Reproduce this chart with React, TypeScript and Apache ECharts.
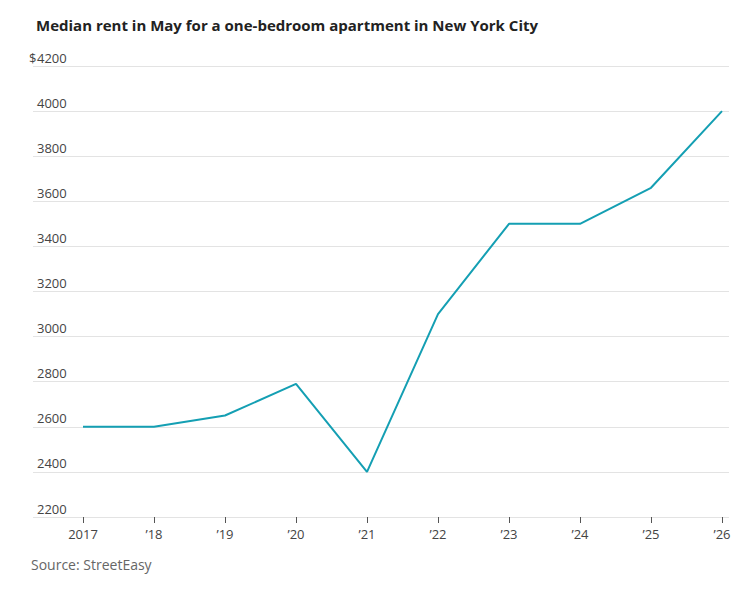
import React, { useEffect, useRef } from "react";
import * as echarts from "echarts";

const years = ["2017", "’18", "’19", "’20", "’21", "’22", "’23", "’24", "’25", "’26"];
const rent = [2600, 2600, 2650, 2790, 2400, 3100, 3500, 3500, 3660, 4000];
const yMin = 2200;
const yMax = 4200;
const yStep = 200;

const FONT = "'Open Sans', 'Noto Sans', sans-serif";

export default function App() {
  const ref = useRef<HTMLDivElement>(null);
  useEffect(() => {
    if (!ref.current) return;
    const chart = echarts.init(ref.current, null, { renderer: "svg" });
    chart.setOption({
      animation: false,
      backgroundColor: "#ffffff",
      title: {
        text: "Median rent in May for a one-bedroom apartment in New York City",
        left: 31,
        top: 12,
        textStyle: { fontFamily: FONT, fontSize: 15, fontWeight: "bold", color: "#222222" },
      },
      graphic: [
        {
          type: "text",
          left: 31,
          top: 557,
          style: { text: "Source: StreetEasy", font: `14px ${FONT}`, fill: "#666666" },
        },
        {
          type: "text",
          left: 29,
          top: 51,
          style: { text: "$", font: `13px ${FONT}`, fill: "#444444" },
        },
      ],
      grid: [
        { left: 33, right: 27, top: 66, bottom: 72 },
        { left: 83, right: 34, top: 66, bottom: 72 },
      ],
      xAxis: [
        { type: "value", gridIndex: 0, show: false, min: 0, max: 1 },
        {
          type: "category",
          gridIndex: 1,
          data: years,
          boundaryGap: false,
          axisLine: { show: false },
          axisTick: { show: true, length: 6, lineStyle: { color: "#555555" }, alignWithLabel: true },
          axisLabel: { color: "#444444", fontFamily: FONT, fontSize: 13, margin: 10 },
          splitLine: { show: false },
        },
      ],
      yAxis: [
        {
          type: "value",
          gridIndex: 0,
          min: yMin,
          max: yMax,
          interval: yStep,
          axisLine: { show: false },
          axisTick: { show: false },
          axisLabel: {
            inside: true,
            margin: 4,
            verticalAlign: "bottom",
            padding: [0, 0, 2, 0],
            color: "#444444",
            fontFamily: FONT,
            fontSize: 13,
            formatter: (v: number) => String(v),
          },
          splitLine: { show: true, lineStyle: { color: "#e3e3e3", width: 1 } },
        },
        {
          type: "value",
          gridIndex: 1,
          min: yMin,
          max: yMax,
          interval: yStep,
          show: false,
          splitLine: { show: false },
        },
      ],
      series: [
        {
          type: "line",
          xAxisIndex: 1,
          yAxisIndex: 1,
          data: rent,
          symbol: "none",
          lineStyle: { color: "#149fb3", width: 2 },
        },
      ],
    });
    return () => chart.dispose();
  }, []);
  return (
    <div
      ref={ref}
      style={{ position: "absolute", left: 0, top: 0, width: 756, height: 589 }}
    />
  );
}
